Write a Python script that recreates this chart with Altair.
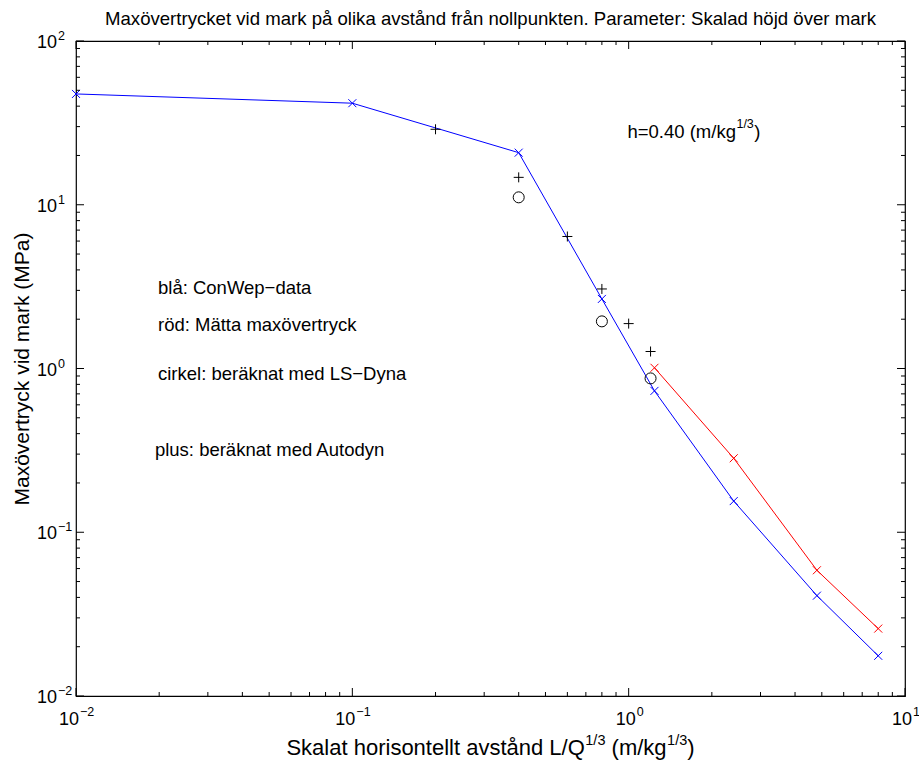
import altair as alt
import pandas as pd

# ---------------- data ----------------
conwep_x = [0.01, 0.1, 0.4, 0.8, 1.24, 2.4, 4.8, 8.0]
conwep_y = [47.5, 41.7, 20.8, 2.66, 0.73, 0.155, 0.041, 0.0176]

matt_x = [1.24, 2.4, 4.8, 8.0]
matt_y = [1.01, 0.283, 0.0586, 0.0258]

autodyn_x = [0.2, 0.4, 0.6, 0.8, 1.0, 1.2]
autodyn_y = [28.9, 14.7, 6.4, 3.06, 1.88, 1.27]

lsdyna_x = [0.4, 0.8, 1.2]
lsdyna_y = [11.1, 1.94, 0.87]

note_text = ["blå: ConWep\u2212data", "röd: Mätta maxövertryck",
             "cirkel: beräknat med LS\u2212Dyna", "plus: beräknat med Autodyn"]
note_x = [0.0198, 0.0198, 0.0198, 0.0193]
note_y = [3.1, 1.85, 0.92, 0.32]

h_parts = ["h=0.40 (m/kg", "1/3", ")"]
h_x = 0.99
h_y = 28.0

x_major = [0.01, 0.1, 1, 10]
x_major_exp = ["\u22122", "\u22121", "0", "1"]
x_minor = [0.02, 0.03, 0.04, 0.05, 0.06, 0.07, 0.08, 0.09,
           0.2, 0.3, 0.4, 0.5, 0.6, 0.7, 0.8, 0.9,
           2, 3, 4, 5, 6, 7, 8, 9]
y_major = [0.01, 0.1, 1, 10, 100]
y_major_exp = ["\u22122", "\u22121", "0", "1", "2"]
y_minor = [0.02, 0.03, 0.04, 0.05, 0.06, 0.07, 0.08, 0.09,
           0.2, 0.3, 0.4, 0.5, 0.6, 0.7, 0.8, 0.9,
           2, 3, 4, 5, 6, 7, 8, 9,
           20, 30, 40, 50, 60, 70, 80, 90]
tick_base = "10"

title_text = "Maxövertrycket vid mark på olika avstånd från nollpunkten. Parameter: Skalad höjd över mark"
x_title_parts = ["Skalat horisontellt avstånd L/Q", "1/3", "(m/kg", "1/3", ")"]
y_title = "Maxövertryck vid mark (MPa)"

# ---------------- layout / style ----------------
W, H = 829, 655
FONT = "Liberation Sans, Arial, Helvetica, DejaVu Sans"
MAJ, MIN = 8, 4
X_SHAPE = "M-1,-1L1,1M-1,1L1,-1"
PLUS_SHAPE = "M-1,0L1,0M0,-1L0,1"
LBL, EXP = 18, 12.5
NOTE = 18.5
XT, XS = 22, 14.5          # x title font size, superscript size

# Arial / Liberation Sans advance widths (per 1000 em) for the title pieces
ADV = {"S": 667, "k": 500, "a": 556, "l": 222, "t": 278, " ": 278, "h": 556, "o": 556,
       "r": 333, "i": 222, "s": 500, "n": 556, "e": 556, "v": 500, "å": 556, "d": 556,
       "L": 556, "/": 278, "Q": 778, "1": 556, "3": 556, "(": 333, ")": 333, "m": 833,
       "g": 556, "=": 584, "0": 556, ".": 278, "4": 556}


def text_width(s, size):
    return sum(ADV.get(c, 556) for c in s) * size / 1000.0


xscale = alt.Scale(type="log", domain=[0.01, 10], nice=False)
yscale = alt.Scale(type="log", domain=[0.01, 100], nice=False)

x_axis = alt.Axis(values=x_major, labels=False, ticks=False, domain=False, grid=False,
                  title=None)
y_axis = alt.Axis(values=y_major, labels=False, ticks=False, domain=False, grid=False,
                  title=y_title, titleFont=FONT, titleFontSize=21,
                  titleFontWeight="normal", titleColor="black",
                  titleX=-54, titleBaseline="middle")

conwep = pd.DataFrame({"x": conwep_x, "y": conwep_y})
matt = pd.DataFrame({"x": matt_x, "y": matt_y})
autodyn = pd.DataFrame({"x": autodyn_x, "y": autodyn_y})
lsdyna = pd.DataFrame({"x": lsdyna_x, "y": lsdyna_y})
notes = pd.DataFrame({"x": note_x, "y": note_y, "t": note_text})

X = lambda: alt.X("x:Q", scale=xscale, axis=x_axis)
Y = lambda: alt.Y("y:Q", scale=yscale, axis=y_axis)

base_line = alt.Chart(conwep).mark_line(color="#0000ff", strokeWidth=1).encode(x=X(), y=Y())
blue_pts = alt.Chart(conwep).mark_point(shape=X_SHAPE, filled=False, color="#0000ff",
                                        size=64, strokeWidth=1, opacity=1).encode(x=X(), y=Y())
red_line = alt.Chart(matt).mark_line(color="#ff0000", strokeWidth=1).encode(x=X(), y=Y())
red_pts = alt.Chart(matt).mark_point(shape=X_SHAPE, filled=False, color="#ff0000",
                                     size=64, strokeWidth=1, opacity=1).encode(x=X(), y=Y())
plus_pts = alt.Chart(autodyn).mark_point(shape=PLUS_SHAPE, filled=False, color="black",
                                         size=100, strokeWidth=1, opacity=1).encode(x=X(), y=Y())
circ_pts = alt.Chart(lsdyna).mark_point(shape="circle", filled=False, color="black",
                                        size=121, strokeWidth=1, opacity=1).encode(x=X(), y=Y())
note_layer = alt.Chart(notes).mark_text(align="left", baseline="middle", font=FONT,
                                        fontSize=NOTE, color="black").encode(
    x=X(), y=Y(), text="t:N")

# h = 0.40 (m/kg^(1/3)) annotation, with a real superscript
h_layers = []
w0 = text_width(h_parts[0], NOTE)
w1 = text_width(h_parts[1], EXP)
for part, size, dx, dy in [(h_parts[0], NOTE, 0, 0), (h_parts[1], EXP, w0 + 0.5, -8),
                           (h_parts[2], NOTE, w0 + w1 + 1, 0)]:
    d = pd.DataFrame({"x": [h_x], "y": [h_y], "t": [part]})
    h_layers.append(alt.Chart(d).mark_text(align="left", baseline="middle", font=FONT,
                                           fontSize=size, color="black", dx=dx, dy=dy).encode(
        x=X(), y=Y(), text="t:N"))


# inward ticks on all four sides
def xticks(vals, length):
    d = pd.DataFrame({"x": vals})
    bottom = alt.Chart(d).mark_rule(color="black", strokeWidth=1).encode(
        x=X(), y=alt.value(H), y2=alt.value(H - length))
    top = alt.Chart(d).mark_rule(color="black", strokeWidth=1).encode(
        x=X(), y=alt.value(0), y2=alt.value(length))
    return [bottom, top]


def yticks(vals, length):
    d = pd.DataFrame({"y": vals})
    left = alt.Chart(d).mark_rule(color="black", strokeWidth=1).encode(
        y=Y(), x=alt.value(0), x2=alt.value(length))
    right = alt.Chart(d).mark_rule(color="black", strokeWidth=1).encode(
        y=Y(), x=alt.value(W), x2=alt.value(W - length))
    return [left, right]


tick_layers = xticks(x_major, MAJ) + xticks(x_minor, MIN) + yticks(y_major, MAJ) + yticks(y_minor, MIN)

# tick labels of the form 10^n, drawn as base + raised exponent
xlab = pd.DataFrame({"x": x_major, "e": x_major_exp, "b": tick_base})
ylab = pd.DataFrame({"y": y_major, "e": y_major_exp, "b": tick_base})

label_layers = []
for flt, shift in [(alt.datum.x < 1, 3), (alt.datum.x >= 1, 7)]:
    label_layers.append(
        alt.Chart(xlab).transform_filter(flt).mark_text(
            align="right", baseline="middle", font=FONT, fontSize=LBL, color="black", dx=shift
        ).encode(x=X(), y=alt.value(H + 24), text="b:N"))
    label_layers.append(
        alt.Chart(xlab).transform_filter(flt).mark_text(
            align="left", baseline="middle", font=FONT, fontSize=EXP, color="black", dx=shift + 1
        ).encode(x=X(), y=alt.value(H + 16), text="e:N"))
label_layers.append(
    alt.Chart(ylab).mark_text(align="right", baseline="middle", font=FONT, fontSize=LBL,
                              color="black", dy=2).encode(
        y=Y(), x=alt.value(-19), text="b:N"))
label_layers.append(
    alt.Chart(ylab).mark_text(align="left", baseline="middle", font=FONT, fontSize=EXP,
                              color="black", dy=-5).encode(
        y=Y(), x=alt.value(-18), text="e:N"))

# x-axis title with real superscripts, centred under the plot
sizes = [XT, XS, XT, XS, XT]
raise_ = [0, 10, 0, 10, 0]
gap_before = [0, 0.5, text_width(" ", XT), 0.5, 0]
widths = [text_width(p, s) for p, s in zip(x_title_parts, sizes)]
start = W / 2 - (sum(widths) + sum(gap_before)) / 2
xtitle_layers = []
pos = start
for part, size, up, w, g in zip(x_title_parts, sizes, raise_, widths, gap_before):
    pos += g
    d = pd.DataFrame({"t": [part]})
    xtitle_layers.append(alt.Chart(d).mark_text(
        align="left", baseline="alphabetic", font=FONT, fontSize=size, color="black"
    ).encode(x=alt.value(pos), y=alt.value(H + 59 - up), text="t:N"))
    pos += w

chart = alt.layer(base_line, red_line, blue_pts, red_pts, plus_pts, circ_pts, note_layer,
                  *h_layers, *tick_layers, *label_layers, *xtitle_layers).properties(
    width=W, height=H,
    title=alt.TitleParams(text=title_text, font=FONT, fontSize=18.6, fontWeight="normal",
                          color="black", anchor="middle", offset=1),
    padding={"left": 76, "top": 41, "right": 14, "bottom": 66},
    autosize=alt.AutoSizeParams(type="none"),
    background="white",
).configure_view(stroke="black", strokeWidth=1.2)

chart.save("out.html", embed_options={"renderer": "svg", "actions": False})
